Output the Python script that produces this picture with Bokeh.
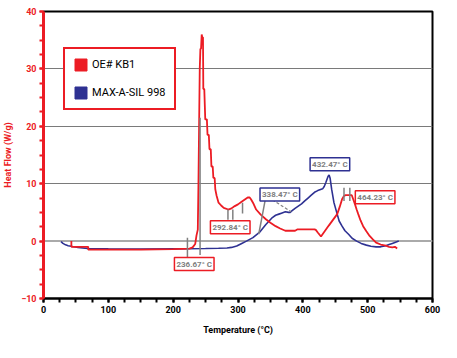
from bokeh.plotting import figure
from bokeh.models import (Range1d, FixedTicker, SingleIntervalTicker, Span, Label,
                          Legend, LegendItem)
from bokeh.embed import file_html
from bokeh.resources import INLINE

RED = "#EC1C24"
BLUE = "#2E3192"
GRAY = "#808080"
FONT = "Roboto"

# ---- data ----
red_T = [43, 43, 69, 69, 150, 200, 225, 230, 234, 236, 238, 239, 240, 241, 242, 243, 244, 245, 246,
         246.5, 248, 249.5, 252, 253, 255, 256, 258, 259, 261, 262, 264, 265, 267, 270, 274, 278,
         285, 290, 295, 300, 305, 310, 315, 318, 320, 324, 328, 335, 343, 350, 358, 365, 373, 388,
         392, 418, 420, 423, 428, 440, 453, 457, 460.5, 463, 465.5, 475.5, 478, 480.5, 483, 485.5,
         489, 493, 498, 503, 508, 513, 520, 528, 533, 538, 542, 545.5]
red_hf = [0, -1, -1, -1.5, -1.5, -1.4, -1.3, -1.1, -0.5, 1.0, 2.0, 10, 20, 30, 33.5, 33.5, 36, 35.5, 35.5,
          26.5, 26.5, 21.2, 21.2, 18.5, 18.5, 16, 16, 13, 13, 11, 11, 9, 7.9, 6.7, 6.2, 5.8,
          5.5, 5.7, 6.1, 6.4, 6.8, 7.2, 7.6, 7.6, 7.3, 6.5, 5.5, 4.6, 3.8, 3.2, 2.6, 2.2, 1.8, 1.8,
          2.05, 2.05, 1.95, 1.5, 0.8, 2.7, 4.7, 6.0, 7.3, 7.8, 8.0, 8.0, 7.2, 6.4, 5.5, 4.7,
          3.6, 2.6, 1.7, 0.9, 0.3, -0.26, -0.6, -0.8, -1.0, -1.1, -1.0, -1.3]

blue_T = [27, 30, 34, 38, 45, 53, 68, 100, 150, 200, 250, 270, 283, 290, 298, 305, 313, 323, 333,
          338, 343, 348, 353, 358, 363, 368, 373, 378, 380.5, 383, 388, 393, 398, 403, 408, 413,
          418, 423, 430.5, 433, 435.5, 439, 440.5, 442, 444.5, 448, 453, 456, 460.5, 465, 470.5,
          476, 483, 490, 498, 505, 513, 520, 528, 533, 538, 543, 548]
blue_hf = [-0.1, -0.4, -0.65, -0.8, -0.95, -1.1, -1.3, -1.35, -1.4, -1.35, -1.3, -1.25, -1.2, -1.1,
           -0.85, -0.45, 0, 0.6, 1.5, 2.2, 2.9, 3.5, 4.1, 4.5, 4.7, 4.9, 5.1, 5.0, 5.0, 5.25, 5.7,
           6.1, 6.5, 7.0, 7.5, 8.0, 8.5, 8.8, 9.1, 9.5, 10.2, 11.3, 11.5, 11.0, 9.0, 6.7, 4.7, 3.5,
           2.6, 1.8, 1.2, 0.5, 0, -0.4, -0.7, -0.9, -1.0, -1.0, -0.8, -0.6, -0.4, -0.2, 0]

series_names = ["OE# KB1", "MAX-A-SIL 998"]

# annotation callouts
callout_text = ["236.67° C", "292.84° C", "338.47° C", "432.47° C", "464.23° C"]
callout_T = [232.5, 288, 364.5, 441.75, 511.5]
callout_hf = [-4.0, 2.43, 8.1, 13.4, 7.65]
callout_color = [RED, RED, BLUE, BLUE, RED]

marker_T = [222, 241.5, 284.5, 292, 307, 463.5, 472.5, 342]
marker_y0 = [0.6, 21.5, 5.5, 5.5, 6.7, 9.3, 9.3, 7.2]
marker_T1 = [222, 241.5, 284.5, 292, 307, 463.5, 472.5, 332]
marker_y1 = [-2.9, -2.4, 3.7, 3.7, 4.8, 7.0, 7.0, 1.2]
dash_T0, dash_y0, dash_T1, dash_y1 = [353], [7.2], [382], [5.1]

p = figure(width=441, height=342, output_backend="svg", toolbar_location=None,
           x_range=Range1d(0, 600), y_range=Range1d(-10, 40),
           min_border_left=39, min_border_right=9, min_border_top=11, min_border_bottom=44)
p.background_fill_color = "white"
p.border_fill_color = "white"
p.outline_line_color = "black"
p.outline_line_width = 2

# grid
p.xgrid.visible = False
p.ygrid.ticker = FixedTicker(ticks=[10, 20, 30])
p.ygrid.grid_line_color = "#7a7a7a"
p.ygrid.grid_line_width = 1
zero = Span(location=0, dimension="width", line_color="#aaaaaa", line_width=2, level="underlay")
p.add_layout(zero)

# axes
p.xaxis.ticker = SingleIntervalTicker(interval=100, num_minor_ticks=4)
p.yaxis.ticker = SingleIntervalTicker(interval=10, num_minor_ticks=4)
p.xaxis.axis_label = "Temperature (°C)"
p.yaxis.axis_label = "Heat Flow (W/g)"
for ax in (p.xaxis[0], p.yaxis[0]):
    ax.major_label_text_font = FONT
    ax.major_label_text_font_style = "bold"
    ax.major_label_text_font_size = "9px"
    ax.axis_label_text_font = FONT
    ax.axis_label_text_font_style = "bold"
    ax.axis_label_text_font_size = "9px"
    ax.major_tick_in = 0
    ax.minor_tick_in = 0
xa = p.xaxis[0]
xa.axis_line_color = "black"
xa.axis_line_width = 2
xa.major_tick_line_color = "black"
xa.minor_tick_line_color = "black"
xa.major_tick_line_width = 2
xa.minor_tick_line_width = 2
xa.major_tick_out = 4
xa.minor_tick_out = 4
xa.major_label_standoff = 3
xa.axis_label_standoff = 9
xa.major_label_text_color = "black"
xa.axis_label_text_color = "black"
ya = p.yaxis[0]
ya.axis_line_color = RED
ya.axis_line_width = 3
ya.major_tick_line_color = RED
ya.minor_tick_line_color = RED
ya.major_tick_line_width = 2
ya.minor_tick_line_width = 2
ya.major_tick_out = 4
ya.minor_tick_out = 4
ya.major_label_standoff = 3
ya.axis_label_standoff = 5
ya.major_label_text_color = RED
ya.axis_label_text_color = RED

# curves
p.line(blue_T, blue_hf, line_color=BLUE, line_width=1.6)
p.line(red_T, red_hf, line_color=RED, line_width=1.8)

# marker lines
p.segment(marker_T, marker_y0, marker_T1, marker_y1, line_color=GRAY, line_width=1.5)
p.segment(dash_T0, dash_y0, dash_T1, dash_y1, line_color=GRAY, line_width=1.2, line_dash="3 2")

# callouts
for t, x, y, c in zip(callout_text, callout_T, callout_hf, callout_color):
    p.add_layout(Label(x=x, y=y, text=t, text_align="center", text_baseline="middle",
                       text_font=FONT, text_font_size="8px", text_font_style="bold",
                       text_color=GRAY, border_line_color=c, border_line_width=1.5,
                       background_fill_color="white", padding=2))

# legend (filled squares; swatch renderers sit outside the visible ranges)
q1 = p.quad(left=[-200], right=[-190], top=[-100], bottom=[-110], fill_color=RED, line_color=RED)
q2 = p.quad(left=[-200], right=[-190], top=[-100], bottom=[-110], fill_color=BLUE, line_color=BLUE)
legend = Legend(items=[LegendItem(label=series_names[0], renderers=[q1]),
                       LegendItem(label=series_names[1], renderers=[q2])],
                location=(20, 188))
legend.border_line_color = RED
legend.border_line_width = 2
legend.border_line_alpha = 1
legend.background_fill_color = "white"
legend.background_fill_alpha = 1
legend.label_text_font = FONT
legend.label_text_font_size = "11px"
legend.label_text_color = "black"
legend.glyph_width = 15
legend.glyph_height = 15
legend.label_height = 15
legend.spacing = 13
legend.padding = 8
legend.margin = 0
legend.label_standoff = 4
p.add_layout(legend)

open("out.html", "w").write(file_html(p, INLINE))
